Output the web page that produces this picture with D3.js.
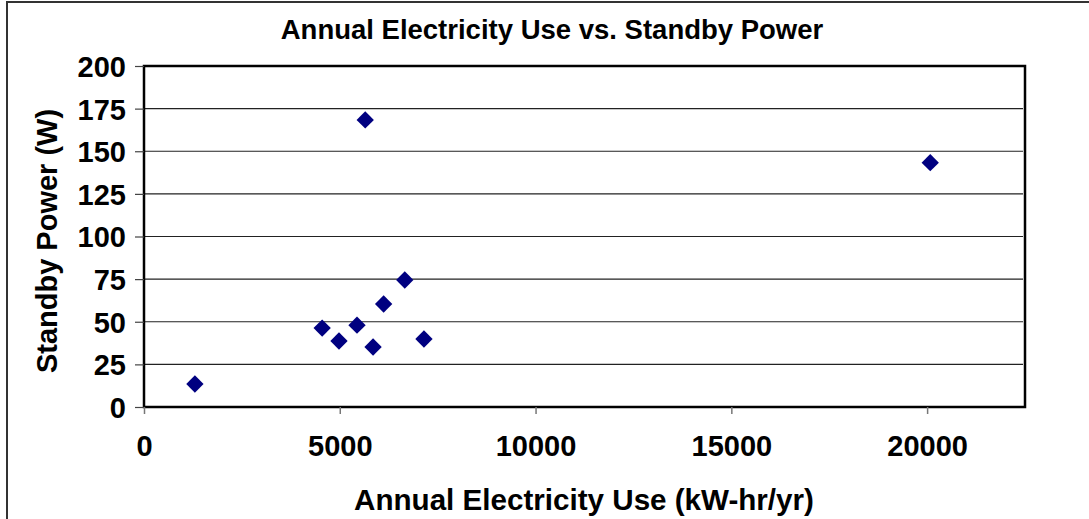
<!DOCTYPE html>
<html>
<head>
<meta charset="utf-8">
<script src="https://cdn.jsdelivr.net/npm/d3@7"></script>
<style>
  html, body { margin: 0; padding: 0; background: #fff; }
  svg { display: block; }
  text { font-family: "Liberation Sans", Arial, sans-serif; font-weight: bold; fill: #000; }
</style>
</head>
<body>
<svg id="chart" width="1089" height="519"></svg>
<script>
const title = "Annual Electricity Use vs. Standby Power";
const xTitle = "Annual Electricity Use (kW-hr/yr)";
const yTitle = "Standby Power (W)";
const electricityUse = [1300, 4550, 4980, 5440, 5850, 6120, 6660, 7150, 5650, 20080];
const standbyPower = [13.5, 46.3, 38.7, 48, 35.2, 60.4, 74.5, 39.9, 168.4, 143.3];
const xTicks = [0, 5000, 10000, 15000, 20000];
const yTicks = [0, 25, 50, 75, 100, 125, 150, 175, 200];
const xDomain = [0, 22500];
const yDomain = [0, 200];

const svg = d3.select("#chart");
const W = 1089, H = 519;
const plot = { left: 144, right: 1025, top: 66, bottom: 407 };

// outer chart border (only left and top visible in frame)
svg.append("path")
  .attr("d", `M7,${H} L7,2 L${W},2`)
  .attr("fill", "none").attr("stroke", "#333").attr("stroke-width", 2);

const x = d3.scaleLinear().domain(xDomain).range([plot.left, plot.right]);
const y = d3.scaleLinear().domain(yDomain).range([plot.bottom, plot.top]);

// gridlines
svg.append("g")
  .selectAll("line")
  .data(yTicks.filter(t => t > 0 && t < 200))
  .join("line")
  .attr("x1", plot.left).attr("x2", plot.right - 2)
  .attr("y1", d => y(d)).attr("y2", d => y(d))
  .attr("stroke", "#222").attr("stroke-width", 1.2);

// plot frame
svg.append("rect")
  .attr("x", plot.left).attr("y", plot.top)
  .attr("width", plot.right - plot.left).attr("height", plot.bottom - plot.top)
  .attr("fill", "none").attr("stroke", "#000").attr("stroke-width", 2.5);

const tickFont = 29;

// y axis
const yAxis = d3.axisLeft(y).tickValues(yTicks).tickSize(9).tickPadding(9);
const gy = svg.append("g").attr("transform", `translate(${plot.left},0)`).call(yAxis);
gy.select(".domain").remove();
gy.selectAll(".tick line").attr("stroke", "#444").attr("stroke-width", 1.2);
gy.selectAll(".tick text")
  .attr("font-size", tickFont).attr("font-family", "Liberation Sans, Arial, sans-serif")
  .attr("font-weight", "bold").attr("fill", "#000").attr("dy", "0.36em");

// x axis
const xAxis = d3.axisBottom(x).tickValues(xTicks).tickSize(7).tickPadding(0).tickFormat(d3.format("d"));
const gx = svg.append("g").attr("transform", `translate(0,${plot.bottom})`).call(xAxis);
gx.select(".domain").remove();
gx.selectAll(".tick line").attr("stroke", "#777").attr("stroke-width", 1.5);
gx.selectAll(".tick text")
  .attr("font-size", tickFont).attr("font-family", "Liberation Sans, Arial, sans-serif")
  .attr("font-weight", "bold").attr("fill", "#000")
  .attr("y", 49).attr("dy", null);

// points
const diamond = d3.symbol().type(d3.symbolSquare).size(150);
svg.append("g")
  .selectAll("path")
  .data(electricityUse.map((v, i) => [v, standbyPower[i]]))
  .join("path")
  .attr("d", diamond)
  .attr("transform", d => `translate(${x(d[0])},${y(d[1])}) rotate(45)`)
  .attr("fill", "#000080");

// titles
svg.append("text").attr("x", 552).attr("y", 39).attr("text-anchor", "middle")
  .attr("font-size", 27.5).text(title);
svg.append("text").attr("x", 584).attr("y", 510).attr("text-anchor", "middle")
  .attr("font-size", 29.6).text(xTitle);
svg.append("text").attr("transform", "translate(57,241) rotate(-90)").attr("text-anchor", "middle")
  .attr("font-size", 29).text(yTitle);
</script>
</body>
</html>
